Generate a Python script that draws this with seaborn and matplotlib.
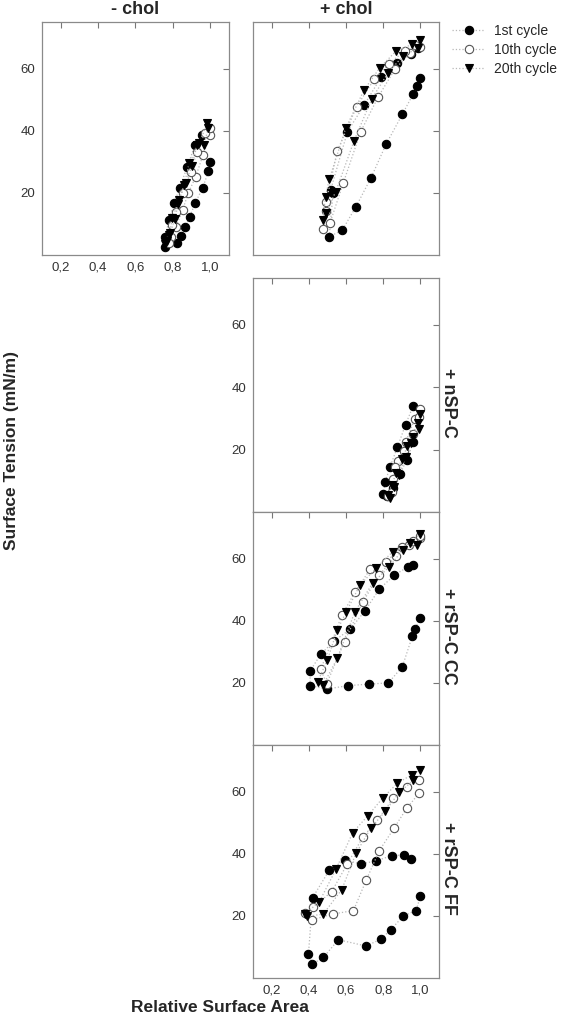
import matplotlib

# only saving a PNG, no window needed
matplotlib.use("Agg")
import matplotlib.pyplot as plt
from matplotlib.lines import Line2D
import pandas as pd
import seaborn as sns

sns.set_style("white")
plt.rcParams["font.family"] = ["Liberation Sans", "DejaVu Sans"]

# ---- data ----
cycles = ["1st cycle", "10th cycle", "20th cycle"]
column_titles = ["- chol", "+ chol"]
row_titles = ["+ nSP-C", "+ rSP-C CC", "+ rSP-C FF"]
x_ticks = [0.2, 0.4, 0.6, 0.8, 1.0]
x_tick_labels = ["0,2", "0,4", "0,6", "0,8", "1,0"]
y_ticks = [20, 40, 60]
y_tick_labels = ["20", "40", "60"]

# - chol
minus_chol_area_1 = [1.0, 0.99, 0.96, 0.92, 0.89, 0.866, 0.845, 0.822, 0.76, 0.758, 0.78, 0.806, 0.836, 0.877, 0.918, 0.958]
minus_chol_tens_1 = [29.8, 26.9, 21.7, 16.8, 12.3, 9.1, 6.1, 3.8, 2.7, 5.9, 11.3, 16.6, 21.6, 28.4, 35.4, 38.6]
minus_chol_area_10 = [1.0, 0.961, 0.922, 0.882, 0.852, 0.816, 0.79, 0.78, 0.795, 0.816, 0.856, 0.895, 0.93, 0.97, 1.0]
minus_chol_tens_10 = [38.6, 32.2, 25.2, 19.9, 14.5, 9.1, 5.9, 4.0, 9.5, 14.0, 19.9, 26.8, 33.3, 39.2, 41.0]
minus_chol_area_20 = [0.99, 0.965, 0.93, 0.9, 0.869, 0.833, 0.81, 0.785, 0.77, 0.76, 0.78, 0.797, 0.825, 0.86, 0.887, 0.941, 0.985]
minus_chol_tens_20 = [40.8, 35.5, 35.5, 28.5, 23.3, 17.7, 11.5, 7.0, 4.5, 3.5, 6.5, 11.8, 16.5, 22.5, 29.5, 36.0, 42.6]

# + chol
plus_chol_area_1 = [1.0, 0.984, 0.962, 0.903, 0.815, 0.735, 0.654, 0.58, 0.51, 0.53, 0.517, 0.608, 0.698, 0.788, 0.875, 0.95, 0.985]
plus_chol_tens_1 = [56.9, 54.4, 51.9, 45.3, 35.6, 24.9, 15.6, 8.0, 5.9, 19.8, 20.9, 39.7, 48.3, 57.2, 61.9, 64.8, 66.5]
plus_chol_area_10 = [1.0, 0.943, 0.863, 0.774, 0.679, 0.586, 0.514, 0.478, 0.493, 0.493, 0.553, 0.657, 0.752, 0.83, 0.917, 0.97]
plus_chol_tens_10 = [67.0, 64.9, 59.8, 51.0, 39.7, 23.3, 10.3, 8.3, 14.3, 17.0, 33.5, 47.7, 56.6, 61.5, 65.8, 67.5]
plus_chol_area_20 = [0.985, 0.907, 0.827, 0.738, 0.643, 0.545, 0.49, 0.475, 0.49, 0.51, 0.6, 0.697, 0.782, 0.87, 0.956, 1.0]
plus_chol_tens_20 = [66.5, 64.1, 58.7, 50.2, 36.7, 20.4, 13.5, 11.3, 18.8, 24.4, 41.0, 53.1, 60.3, 65.7, 67.8, 69.2]

# + nSP-C
nspc_area_1 = [0.962, 0.92, 0.876, 0.837, 0.81, 0.80, 0.82, 0.855, 0.89, 0.926, 0.962]
nspc_tens_1 = [34.1, 28.0, 20.7, 14.5, 9.5, 5.7, 5.0, 7.8, 12.1, 16.7, 22.3]
nspc_area_10 = [1.0, 0.97, 0.92, 0.88, 0.855, 0.827, 0.845, 0.866, 0.91, 0.962, 0.99]
nspc_tens_10 = [33.0, 29.8, 22.3, 16.4, 10.5, 5.0, 6.5, 14.3, 19.5, 25.0, 30.5]
nspc_area_20 = [1.0, 0.985, 0.96, 0.93, 0.9, 0.87, 0.845, 0.825, 0.835, 0.86, 0.885, 0.92, 0.95, 0.99]
nspc_tens_20 = [31.5, 28.5, 24.0, 21.0, 17.0, 12.5, 8.5, 5.5, 4.5, 8.0, 12.0, 17.5, 22.0, 26.5]

# + rSP-C CC
cc_area_1 = [0.998, 0.971, 0.957, 0.903, 0.828, 0.724, 0.609, 0.496, 0.407, 0.407, 0.466, 0.538, 0.622, 0.702, 0.778, 0.86, 0.935, 0.962]
cc_tens_1 = [40.8, 37.2, 35.1, 25.2, 20.0, 19.6, 19.1, 18.0, 19.1, 23.9, 29.3, 33.6, 37.2, 43.2, 50.1, 54.7, 57.4, 58.1]
cc_area_10 = [1.0, 0.94, 0.867, 0.778, 0.691, 0.592, 0.496, 0.464, 0.524, 0.578, 0.65, 0.73, 0.815, 0.903, 0.96, 1.0]
cc_tens_10 = [66.5, 64.5, 60.8, 54.7, 46.1, 33.3, 19.7, 24.4, 33.3, 41.8, 49.4, 56.6, 59.0, 63.8, 65.8, 67.3]
cc_area_20 = [0.98, 0.905, 0.833, 0.743, 0.648, 0.553, 0.478, 0.448, 0.5, 0.553, 0.602, 0.675, 0.761, 0.851, 0.944, 1.0]
cc_tens_20 = [64.5, 62.8, 57.4, 52.1, 42.9, 27.9, 19.4, 20.4, 27.4, 37.0, 42.9, 51.5, 56.9, 62.2, 64.9, 68.0]

# + rSP-C FF
ff_area_1 = [1.0, 0.977, 0.909, 0.84, 0.788, 0.708, 0.559, 0.478, 0.419, 0.398, 0.421, 0.511, 0.595, 0.679, 0.762, 0.846, 0.914, 0.948]
ff_tens_1 = [26.4, 21.7, 20.0, 15.5, 12.5, 10.3, 12.3, 6.6, 4.5, 7.6, 25.9, 34.8, 38.0, 36.7, 37.7, 39.4, 39.6, 38.2]
ff_area_10 = [0.993, 0.926, 0.858, 0.779, 0.708, 0.64, 0.529, 0.416, 0.38, 0.425, 0.523, 0.607, 0.69, 0.769, 0.855, 0.93, 0.995]
ff_tens_10 = [59.5, 54.6, 48.2, 41.0, 31.4, 21.7, 20.6, 18.7, 20.8, 22.8, 27.8, 36.7, 45.3, 50.9, 57.9, 61.4, 63.8]
ff_area_20 = [0.962, 0.887, 0.81, 0.733, 0.654, 0.577, 0.478, 0.392, 0.38, 0.457, 0.547, 0.636, 0.717, 0.797, 0.876, 0.953, 0.998]
ff_tens_20 = [63.6, 59.8, 53.6, 48.2, 40.2, 28.4, 20.6, 19.8, 20.6, 24.6, 35.1, 46.8, 52.2, 57.9, 62.7, 65.4, 66.8]


def make_frame(areas, tensions):
    """long table: one row per point, with its cycle"""
    parts = []
    for cyc, a, t in zip(cycles, areas, tensions):
        parts.append(pd.DataFrame({"area": a, "tension": t, "cycle": cyc}))
    return pd.concat(parts, ignore_index=True)


frames = {
    "- chol": make_frame([minus_chol_area_1, minus_chol_area_10, minus_chol_area_20],
                         [minus_chol_tens_1, minus_chol_tens_10, minus_chol_tens_20]),
    "+ chol": make_frame([plus_chol_area_1, plus_chol_area_10, plus_chol_area_20],
                         [plus_chol_tens_1, plus_chol_tens_10, plus_chol_tens_20]),
    "+ nSP-C": make_frame([nspc_area_1, nspc_area_10, nspc_area_20],
                          [nspc_tens_1, nspc_tens_10, nspc_tens_20]),
    "+ rSP-C CC": make_frame([cc_area_1, cc_area_10, cc_area_20],
                             [cc_tens_1, cc_tens_10, cc_tens_20]),
    "+ rSP-C FF": make_frame([ff_area_1, ff_area_10, ff_area_20],
                             [ff_tens_1, ff_tens_10, ff_tens_20]),
}

# marker look for each cycle
marker_style = {
    "1st cycle": dict(marker="o", markerfacecolor="black", markeredgecolor="black", markersize=6),
    "10th cycle": dict(marker="o", markerfacecolor="white", markeredgecolor="#555555", markersize=6),
    "20th cycle": dict(marker="v", markerfacecolor="black", markeredgecolor="black", markersize=6.3),
}
line_kw = dict(color="#b8b8b8", linewidth=0.9, linestyle=":", markeredgewidth=0.8)

W, H = 562, 1025
fig = plt.figure(figsize=(W / 100, H / 100), dpi=100)


def px_axes(left, top, right, bottom):
    return fig.add_axes([left / W, 1 - bottom / H, (right - left) / W, (bottom - top) / H])


# (left, top, right, bottom) in pixels, plus which tick labels to show
layout = {
    "- chol": ((42, 22, 229, 255), True, True),
    "+ chol": ((253, 22, 439, 255), False, False),
    "+ nSP-C": ((253, 278, 439, 512), False, True),
    "+ rSP-C CC": ((253, 512, 439, 745), False, True),
    "+ rSP-C FF": ((253, 745, 439, 978), True, True),
}

for name, (box, show_x, show_y) in layout.items():
    ax = px_axes(*box)
    df = frames[name]
    for cyc in cycles:
        sub = df[df["cycle"] == cyc]
        sns.lineplot(data=sub, x="area", y="tension", sort=False, estimator=None,
                     ax=ax, **line_kw, **marker_style[cyc])
    ax.set_xlim(0.1, 1.1)
    ax.set_ylim(0, 75)
    ax.set_xticks(x_ticks, x_tick_labels)
    ax.set_yticks(y_ticks, y_tick_labels)
    ax.set_xlabel("")
    ax.set_ylabel("")
    ax.tick_params(direction="in", top=True, right=True, length=4, width=0.8,
                   color="#777777", labelsize=9.5, labelcolor="#333333",
                   labelbottom=show_x, labelleft=show_y, pad=5)
    for s in ax.spines.values():
        s.set_color("#8a8a8a")
        s.set_linewidth(0.9)

# column titles
fig.text(135.5 / W, 1 - 10 / H, column_titles[0], ha="center", va="center",
         fontsize=13, fontweight="bold")
fig.text(346 / W, 1 - 10 / H, column_titles[1], ha="center", va="center",
         fontsize=13, fontweight="bold")

# row titles on the right
for label, yc in zip(row_titles, [403, 636, 868]):
    fig.text(449 / W, 1 - yc / H, label, ha="center", va="center", rotation=270,
             fontsize=13, fontweight="bold")

# axis labels
fig.text(12 / W, 1 - 451 / H, "Surface Tension (mN/m)", ha="center", va="center",
         rotation=90, fontsize=12.5, fontweight="bold")
fig.text(220 / W, 1 - 1008 / H, "Relative Surface Area", ha="center", va="center",
         fontsize=12.5, fontweight="bold")

# legend at top right
handles = [Line2D([], [], **line_kw, **marker_style[c]) for c in cycles]
fig.legend(handles, cycles, loc="upper left", bbox_to_anchor=(452 / W, 1 - 24 / H),
           frameon=False, fontsize=10, handlelength=2.4, handletextpad=0.6,
           labelspacing=0.35, borderpad=0, borderaxespad=0, numpoints=1)

fig.savefig("out.png", dpi=100)
plt.close(fig)
